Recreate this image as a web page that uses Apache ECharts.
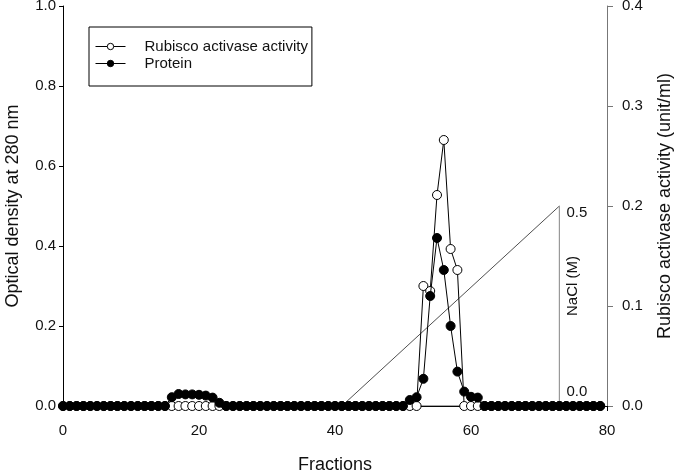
<!DOCTYPE html>
<html>
<head>
<meta charset="utf-8">
<script src="https://cdn.jsdelivr.net/npm/echarts@6/dist/echarts.min.js"></script>
<style>
  html, body { margin: 0; padding: 0; background: #fff; }
  #chart { width: 677px; height: 470px; }
</style>
</head>
<body>
<div id="chart"></div>
<script>
// fraction numbers (x)
const fractions = [
  0, 1, 2, 3, 4, 5, 6, 7, 8, 9, 10, 11, 12, 13, 14, 15, 16, 17, 18, 19,
  20, 21, 22, 23, 24, 25, 26, 27, 28, 29, 30, 31, 32, 33, 34, 35, 36, 37, 38, 39,
  40, 41, 42, 43, 44, 45, 46, 47, 48, 49, 50, 51, 52, 53, 54, 55, 56, 57, 58, 59,
  60, 61, 62, 63, 64, 65, 66, 67, 68, 69, 70, 71, 72, 73, 74, 75, 76, 77, 78, 79
];
// Rubisco activase activity (unit/ml), right axis
const activity = [
  0, 0, 0, 0, 0, 0, 0, 0, 0, 0, 0, 0, 0, 0, 0, 0, 0, 0, 0, 0,
  0, 0, 0, 0, 0, 0, 0, 0, 0, 0, 0, 0, 0, 0, 0, 0, 0, 0, 0, 0,
  0, 0, 0, 0, 0, 0, 0, 0, 0, 0, 0, 0, 0, 0.120, 0.115, 0.211, 0.266, 0.157, 0.136, 0,
  0, 0, 0, 0, 0, 0, 0, 0, 0, 0, 0, 0, 0, 0, 0, 0, 0, 0, 0, 0
];
// Protein, optical density at 280 nm, left axis
const protein = [
  0, 0, 0, 0, 0, 0, 0, 0, 0, 0, 0, 0, 0, 0, 0, 0, 0.022, 0.030, 0.029, 0.029,
  0.028, 0.026, 0.021, 0.008, 0, 0, 0, 0, 0, 0, 0, 0, 0, 0, 0, 0, 0, 0, 0, 0,
  0, 0, 0, 0, 0, 0, 0, 0, 0, 0, 0, 0.015, 0.022, 0.068, 0.275, 0.420, 0.340, 0.200, 0.086, 0.036,
  0.023, 0.021, 0, 0, 0, 0, 0, 0, 0, 0, 0, 0, 0, 0, 0, 0, 0, 0, 0, 0
];
// NaCl gradient (M): start fraction, end fraction, concentrations
const naclFractions = [41, 73];
const naclConc = [0, 0.5];
const naclTicks = ['0.0', '0.5'];

const leftTicks = [0, 0.2, 0.4, 0.6, 0.8, 1.0];
const rightTicks = [0, 0.1, 0.2, 0.3, 0.4];
const xTicks = [0, 20, 40, 60, 80];

const font = 'Liberation Sans, Arial, sans-serif';

const chart = echarts.init(document.getElementById('chart'));

chart.setOption({
  animation: false,
  textStyle: { fontFamily: font },
  grid: { left: 63, right: 70, top: 6, bottom: 64, outerBoundsMode: 'none', containLabel: false },
  legend: {
    data: ['Rubisco activase activity', 'Protein'],
    orient: 'vertical',
    left: 89,
    top: 27,
    padding: [12, 4, 15, 6],
    itemGap: 2,
    itemWidth: 30,
    itemHeight: 8,
    borderColor: '#000',
    borderWidth: 1,
    borderRadius: 0,
    lineStyle: { width: 1 },
    itemStyle: { borderWidth: 1 },
    textStyle: { fontFamily: font, fontSize: 15, color: '#111', padding: [0, 0, 0, 14] }
  },
  xAxis: {
    type: 'value',
    min: xTicks[0],
    max: xTicks[xTicks.length - 1],
    interval: 20,
    name: 'Fractions',
    nameLocation: 'middle',
    nameGap: 50,
    nameTextStyle: { fontFamily: font, fontSize: 18, color: '#111' },
    axisLine: { lineStyle: { color: '#000', width: 1 } },
    axisTick: { length: 5, lineStyle: { color: '#000' } },
    axisLabel: { fontFamily: font, fontSize: 15, color: '#111', margin: 17 },
    splitLine: { show: false }
  },
  yAxis: [
    {
      type: 'value',
      min: leftTicks[0],
      max: leftTicks[leftTicks.length - 1],
      interval: 0.2,
      name: 'Optical density at 280 nm',
      nameLocation: 'middle',
      nameGap: 41,
      nameTextStyle: { fontFamily: font, fontSize: 18, color: '#111' },
      axisLine: { show: true, lineStyle: { color: '#000', width: 1 } },
      axisTick: { show: true, length: 4, lineStyle: { color: '#000' } },
      axisLabel: { fontFamily: font, fontSize: 15, color: '#111', margin: 7,
        formatter: v => v.toFixed(1) },
      splitLine: { show: false }
    },
    {
      type: 'value',
      position: 'right',
      min: rightTicks[0],
      max: rightTicks[rightTicks.length - 1],
      interval: 0.1,
      name: 'Rubisco activase activity (unit/ml)',
      nameLocation: 'middle',
      nameGap: 49,
      nameTextStyle: { fontFamily: font, fontSize: 18, color: '#111' },
      axisLine: { show: true, lineStyle: { color: '#777', width: 1 } },
      axisTick: { show: true, length: 6, lineStyle: { color: '#777' } },
      axisLabel: { fontFamily: font, fontSize: 15, color: '#111', margin: 15,
        formatter: v => v.toFixed(1) },
      splitLine: { show: false }
    }
  ],
  series: [
    {
      name: 'NaCl gradient',
      type: 'line',
      yAxisIndex: 0,
      symbol: 'none',
      silent: true,
      z: 1,
      lineStyle: { color: '#222', width: 0.8 },
      data: [[naclFractions[1], naclConc[0]], [naclFractions[0], naclConc[0]], [naclFractions[1], naclConc[1]]]
    },
    {
      name: 'NaCl end',
      type: 'line',
      yAxisIndex: 0,
      symbol: 'circle',
      symbolSize: 0,
      silent: true,
      z: 1,
      lineStyle: { color: '#999', width: 1.2 },
      label: {
        show: true,
        position: 'right',
        distance: 7,
        fontFamily: font,
        fontSize: 15,
        color: '#111',
        formatter: p => naclTicks[p.dataIndex === 0 ? 1 : 0],
      },
      data: [
        { value: [naclFractions[1], naclConc[1]], label: { offset: [0, 7] } },
        { value: [naclFractions[1], naclConc[0]], label: { offset: [0, -14] } }
      ]
    },
    {
      name: 'Rubisco activase activity',
      type: 'line',
      yAxisIndex: 1,
      symbol: 'circle',
      symbolSize: 9,
      z: 3,
      lineStyle: { color: '#000', width: 1 },
      itemStyle: { color: '#fff', borderColor: '#000', borderWidth: 1 },
      data: fractions.map((f, i) => [f, activity[i]])
    },
    {
      name: 'Protein',
      type: 'line',
      yAxisIndex: 0,
      symbol: 'circle',
      symbolSize: 9,
      z: 4,
      lineStyle: { color: '#000', width: 1 },
      itemStyle: { color: '#000', borderColor: '#000', borderWidth: 1 },
      data: fractions.map((f, i) => [f, protein[i]])
    }
  ]
});

// NaCl axis title beside the gradient end
const p = chart.convertToPixel({ xAxisIndex: 0, yAxisIndex: 0 }, [naclFractions[1], 0.3]);
chart.setOption({
  graphic: [{
    type: 'text',
    x: p[0] + 13,
    y: p[1],
    rotation: Math.PI / 2,
    style: {
      text: 'NaCl (M)',
      fontFamily: font,
      fontSize: 15,
      fill: '#111',
      align: 'center',
      verticalAlign: 'middle'
    }
  }]
});
</script>
</body>
</html>
